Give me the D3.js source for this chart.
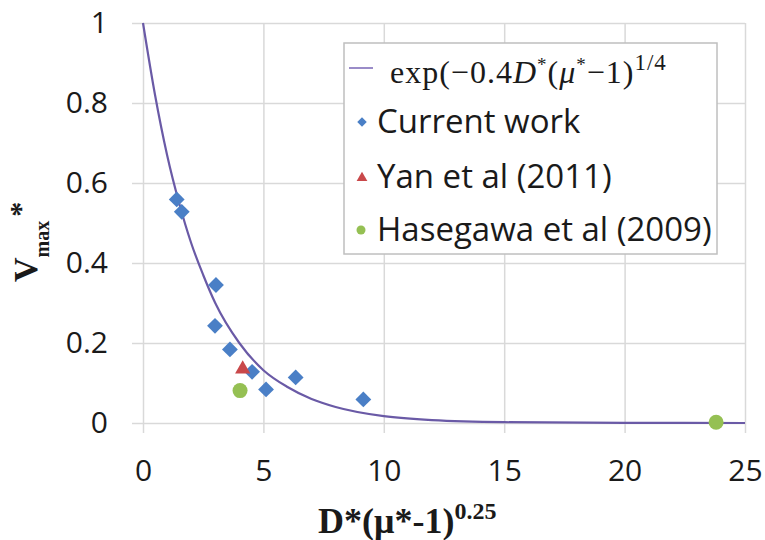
<!DOCTYPE html>
<html>
<head>
<meta charset="utf-8">
<script src="https://cdn.jsdelivr.net/npm/d3@7"></script>
<style>
  body { margin: 0; background: #fff; }
  svg { display: block; }
  .tick text { font-family: "Open Sans", sans-serif; font-size: 30px; fill: #1a1a1a; }
</style>
</head>
<body>
<svg width="765" height="540"></svg>
<script>
// data
const currentX = [1.40, 1.61, 3.03, 2.99, 3.61, 4.53, 5.11, 6.34, 9.15];
const currentY = [0.559, 0.528, 0.345, 0.243, 0.184, 0.128, 0.084, 0.114, 0.059];
const yanX = [4.14];
const yanY = [0.135];
const hasegawaX = [4.03, 23.8];
const hasegawaY = [0.081, 0.002];
// fitted curve, sampled from the drawn line
const fitX = [0, 0.5, 1, 1.5, 2, 2.5, 3, 4, 5, 6, 7, 8, 10, 12, 15, 20, 25];
const fitY = [1, 0.82, 0.67, 0.55, 0.45, 0.37, 0.30, 0.20, 0.132, 0.09, 0.06, 0.04, 0.017, 0.007, 0.002, 0.0003, 0];
const xTicks = [0, 5, 10, 15, 20, 25];
const yTicks = [0, 0.2, 0.4, 0.6, 0.8, 1];

const margin = { top: 23, left: 143 };
const w = 602, h = 400;

const svg = d3.select("svg");
const chart = svg.append("g")
  .attr("transform", `translate(${margin.left}, ${margin.top})`);

const x = d3.scaleLinear().domain([0, 25]).range([0, w]);
const y = d3.scaleLinear().domain([0, 1]).range([h, 0]);

// grid + ticks (excel style, ticks poke out past the plot)
const gx = chart.append("g")
  .attr("transform", `translate(0, ${h + 10})`)
  .call(d3.axisBottom(x).tickValues(xTicks).tickSize(-(h + 10)).tickPadding(27).tickFormat(d => String(d)));
const gy = chart.append("g")
  .attr("transform", "translate(-11, 0)")
  .call(d3.axisLeft(y).tickValues(yTicks).tickSize(-(w + 11)).tickPadding(24).tickFormat(d => String(d)));
[gx, gy].forEach(g => {
  g.select(".domain").remove();
  g.selectAll(".tick line").attr("stroke", "#d9d9d9").attr("stroke-width", 1.5);
});

// curve
const line = d3.line()
  .x((d, i) => x(fitX[i]))
  .y(d => y(d))
  .curve(d3.curveMonotoneX);
chart.append("path")
  .datum(fitY)
  .attr("d", line)
  .attr("fill", "none")
  .attr("stroke", "#6a5aa6")
  .attr("stroke-width", 2.2);

// markers
const diamond = d3.symbol().type(d3.symbolSquare).size(125);
chart.selectAll(".cur")
  .data(currentX)
  .join("path")
  .attr("class", "cur")
  .attr("d", diamond)
  .attr("transform", (d, i) => `translate(${x(d)}, ${y(currentY[i])}) rotate(45)`)
  .attr("fill", "#4a7fc6");

chart.selectAll(".yan")
  .data(yanX)
  .join("path")
  .attr("class", "yan")
  .attr("d", d3.symbol().type(d3.symbolTriangle).size(100))
  .attr("transform", (d, i) => `translate(${x(d)}, ${y(yanY[i])})`)
  .attr("fill", "#c9484a");

chart.selectAll(".has")
  .data(hasegawaX)
  .join("circle")
  .attr("class", "has")
  .attr("cx", d => x(d))
  .attr("cy", (d, i) => y(hasegawaY[i]))
  .attr("r", 7.5)
  .attr("fill", "#95c053");

// legend
const lg = svg.append("g");
lg.append("rect")
  .attr("x", 344).attr("y", 43).attr("width", 373).attr("height", 211)
  .attr("fill", "#fff").attr("stroke", "#bfbfbf").attr("stroke-width", 1.5);
lg.append("line")
  .attr("x1", 349).attr("x2", 373).attr("y1", 68).attr("y2", 68)
  .attr("stroke", "#9a8cc8").attr("stroke-width", 2);

const ft = lg.append("text")
  .attr("x", 390).attr("y", 83)
  .attr("font-family", "'Liberation Serif', 'DejaVu Serif', serif")
  .attr("font-size", 32).attr("letter-spacing", 1).attr("fill", "#1a1a1a");
ft.append("tspan").text("exp(\u22120.4");
ft.append("tspan").attr("font-style", "italic").text("D");
ft.append("tspan").attr("font-size", 19).attr("dy", -12).text("*");
ft.append("tspan").attr("dy", 12).text("(");
ft.append("tspan").attr("font-style", "italic").text("\u03bc");
ft.append("tspan").attr("font-size", 19).attr("dy", -12).text("*");
ft.append("tspan").attr("dy", 12).text("\u22121)");
ft.append("tspan").attr("font-size", 23).attr("dy", -13).text("1/4");

const names = ["Current work", "Yan et al (2011)", "Hasegawa et al (2009)"];
const rowY = [122, 177, 230];
lg.append("path")
  .attr("d", d3.symbol().type(d3.symbolSquare).size(45))
  .attr("transform", `translate(362, ${rowY[0]}) rotate(45)`)
  .attr("fill", "#4a7fc6");
lg.append("path")
  .attr("d", d3.symbol().type(d3.symbolTriangle).size(50))
  .attr("transform", `translate(362, ${rowY[1] + 1})`)
  .attr("fill", "#c9484a");
lg.append("circle")
  .attr("cx", 361).attr("cy", rowY[2]).attr("r", 4.5)
  .attr("fill", "#95c053");
lg.selectAll(".lt")
  .data(names)
  .join("text")
  .attr("class", "lt")
  .attr("x", 377)
  .attr("y", (d, i) => rowY[i] + 11)
  .attr("font-family", "'Open Sans', sans-serif")
  .attr("font-size", 33)
  .attr("fill", "#1a1a1a")
  .text(d => d);

// axis titles
const xt = svg.append("text")
  .attr("x", 318).attr("y", 533)
  .attr("font-family", "'Liberation Serif', serif")
  .attr("font-weight", "bold")
  .attr("font-size", 36)
  .attr("fill", "#1a1a1a");
xt.append("tspan").text("D*(\u03bc*-1)");
xt.append("tspan").attr("font-size", 24).attr("dy", -14).text("0.25");

const yt = svg.append("text")
  .attr("transform", "translate(37, 282) rotate(-90)")
  .attr("font-family", "'Liberation Serif', serif")
  .attr("font-weight", "bold")
  .attr("font-size", 34)
  .attr("fill", "#1a1a1a");
yt.append("tspan").text("V");
yt.append("tspan").attr("font-size", 20).attr("dy", 12).text("max");
yt.append("tspan").attr("font-size", 30).attr("dy", -19).attr("dx", 4).text("*");
</script>
</body>
</html>
